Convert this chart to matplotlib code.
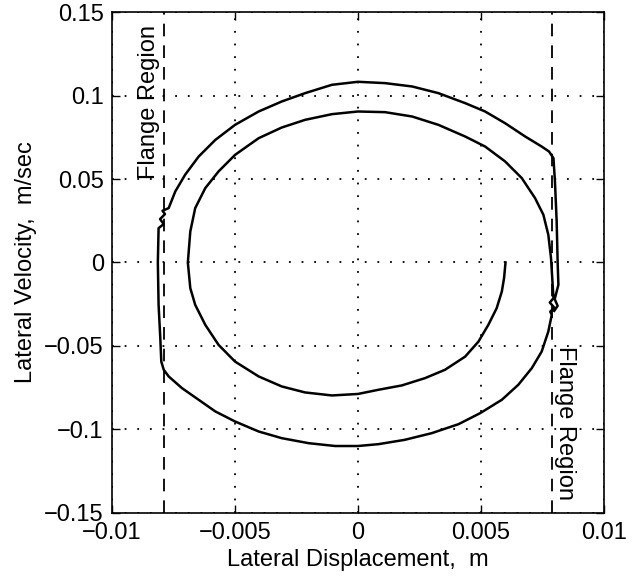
import matplotlib
matplotlib.use('Agg')
import matplotlib.pyplot as plt

plt.rcParams['font.family'] = ['Liberation Sans', 'DejaVu Sans']

# trajectory: lateral displacement (m), lateral velocity (m/sec)
# inner turn: starts at (0.006, 0), goes round clockwise until it meets the right flange
inner_x = [0.0060, 0.00594, 0.00585, 0.00564, 0.0053, 0.0049, 0.00436, 0.00354,
           0.00273, 0.00178, 0.00083, 0.0, -0.00106, -0.00215, -0.0031, -0.00404,
           -0.0050, -0.00567, -0.00621, -0.00662, -0.00682, -0.00692, -0.00682,
           -0.00662, -0.00621, -0.00567, -0.0050, -0.00404, -0.0031, -0.00215,
           -0.00106, 0.0, 0.0011, 0.0022, 0.00327, 0.00436, 0.00517, 0.00598,
           0.00666, 0.0072, 0.00754, 0.00774, 0.00785, 0.0079, 0.00795]
inner_v = [0.0, -0.0094, -0.0174, -0.0274, -0.0374, -0.0474, -0.0564, -0.0643,
           -0.0693, -0.0737, -0.0763, -0.0788, -0.0797, -0.0779, -0.0743, -0.0683,
           -0.0594, -0.0494, -0.0374, -0.0254, -0.0154, 0.0, 0.0186,
           0.0326, 0.0446, 0.0546, 0.0645, 0.0745, 0.0809, 0.0855,
           0.0889, 0.0905, 0.0901, 0.0875, 0.0825, 0.0755, 0.0695, 0.0606,
           0.0506, 0.0386, 0.0286, 0.0166, 0.0026, -0.0094, -0.0214]

# right flange contact, then outer lower half over to the left flange
lower_x = [0.00780, 0.00798, 0.00782, 0.00788,
           0.00774, 0.00747, 0.00707, 0.00652, 0.00585, 0.00497, 0.00409, 0.003,
           0.0019, 0.00083, 0.0, -0.00093, -0.00201, -0.0031, -0.00404, -0.0050,
           -0.0058, -0.00648, -0.00716, -0.0077, -0.0079, -0.0080, -0.00804,
           -0.00811, -0.00814, -0.00811]
lower_v = [-0.0240, -0.0270, -0.0295, -0.0314,
           -0.0414, -0.0534, -0.0633, -0.0733, -0.0823, -0.0903, -0.0969, -0.1023,
           -0.1063, -0.1089, -0.1100, -0.1100, -0.1083, -0.1053, -0.1013, -0.0953,
           -0.0893, -0.0823, -0.0753, -0.0683, -0.0643, -0.0594, -0.0454,
           -0.0254, 0.0, 0.0206]

# left flange contact, outer upper half, then down the right flange to the end
upper_x = [-0.00790, -0.00805, -0.00785, -0.00795,
           -0.0077, -0.00743, -0.00703, -0.00648, -0.0058, -0.0050, -0.00404,
           -0.0031, -0.00215, -0.00106, 0.0, 0.0011, 0.0022, 0.00327, 0.00436,
           0.00517, 0.00598, 0.0068, 0.00747, 0.00777, 0.00795, 0.00801, 0.00808,
           0.00812, 0.00815, 0.00800, 0.00812, 0.00798]
upper_v = [0.0230, 0.0260, 0.0290, 0.0310,
           0.0326, 0.0426, 0.0526, 0.0635, 0.0735, 0.0825, 0.0905,
           0.0965, 0.1015, 0.1065, 0.1083, 0.1075, 0.1055, 0.1015, 0.0955,
           0.0905, 0.0835, 0.0755, 0.0695, 0.0665, 0.0625, 0.0486, 0.0246,
           0.0, -0.0134, -0.0220, -0.0260, -0.0290]

flange = [-0.0079, 0.0079]

disp = inner_x + lower_x + upper_x
vel = inner_v + lower_v + upper_v

fig, ax = plt.subplots(figsize=(6.37, 5.82), dpi=100)
fig.subplots_adjust(left=0.176, right=0.948, top=0.979, bottom=0.119)

ax.plot(disp, vel, color='black', lw=1.8, solid_joinstyle='round')
for xf in flange:
    ax.axvline(xf, color='black', lw=1.3, linestyle=(0, (7, 5)))

ax.text(-0.0085, 0.096, 'Flange Region', rotation=90, fontsize=17,
        ha='center', va='center')
ax.text(0.0084, -0.096, 'Flange Region', rotation=-90, fontsize=17,
        ha='center', va='center')

ax.set_xlim(-0.01, 0.01)
ax.set_ylim(-0.15, 0.15)
ax.set_xticks([-0.01, -0.005, 0, 0.005, 0.01])
ax.set_xticklabels(['\u22120.01', '\u22120.005', '0', '0.005', '0.01'])
ax.set_yticks([-0.15, -0.1, -0.05, 0, 0.05, 0.1, 0.15])
ax.set_yticklabels(['\u22120.15', '\u22120.1', '\u22120.05', '0', '0.05', '0.1', '0.15'])
ax.grid(True, color='black', linestyle=(0, (1, 6)), linewidth=1.3)
ax.tick_params(direction='in', top=True, right=True, length=6, width=1,
               labelsize=17)
ax.tick_params(axis='x', pad=7)
ax.tick_params(axis='y', pad=6)
for s in ax.spines.values():
    s.set_linewidth(1.2)

ax.set_xlabel('Lateral Displacement,  m', fontsize=17, labelpad=3)
ax.set_ylabel('Lateral Velocity,  m/sec', fontsize=17, labelpad=5)

fig.savefig('out.png')
